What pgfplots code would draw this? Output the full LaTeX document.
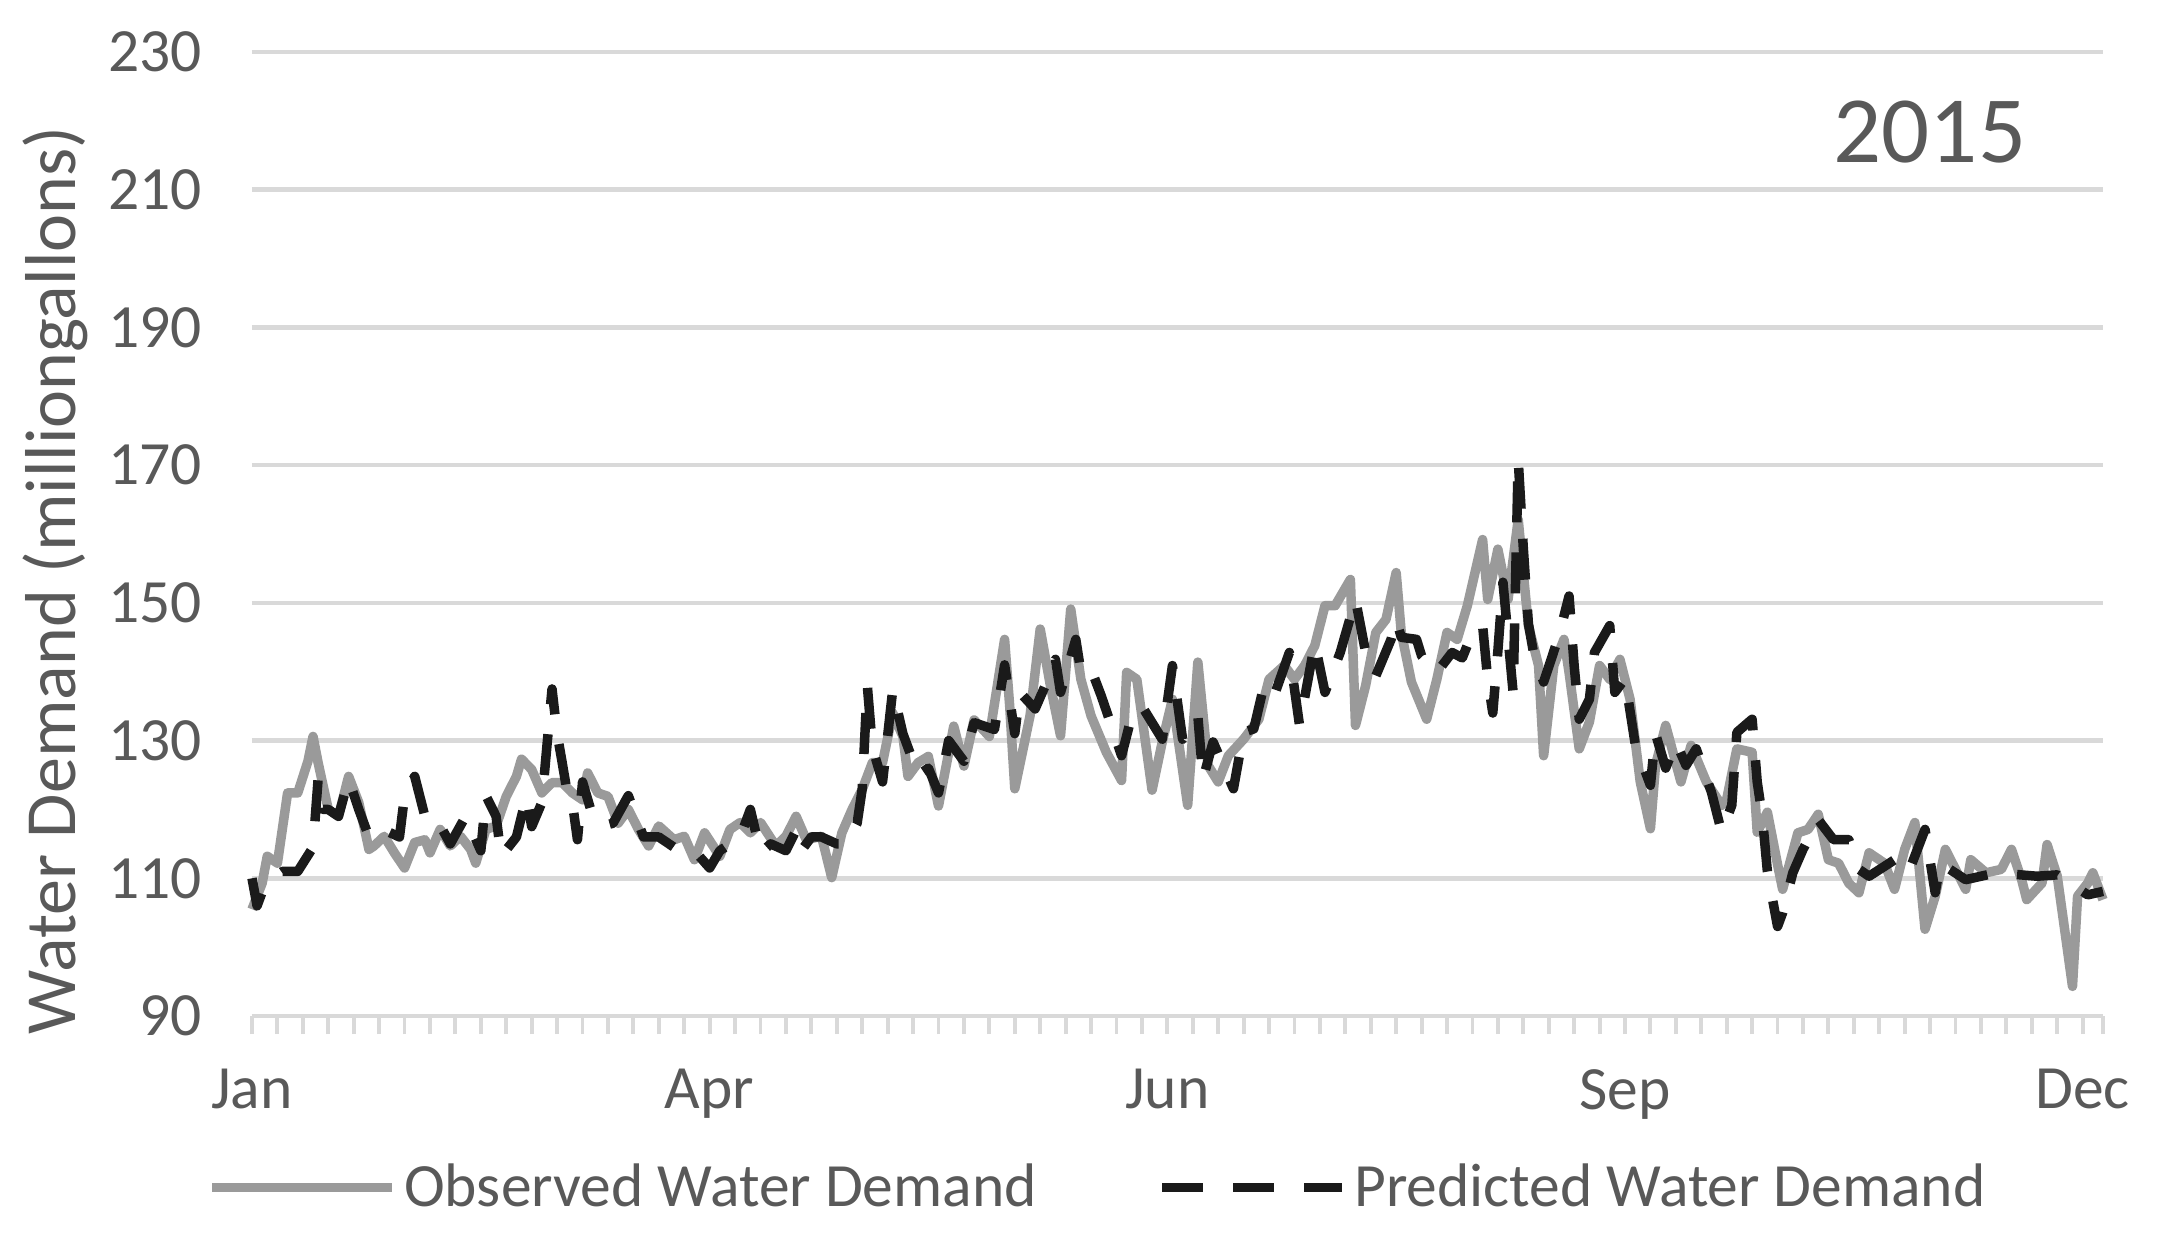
\documentclass[border=0pt]{standalone}
\usepackage{pgfplots}
\pgfplotsset{compat=1.18}
\usepackage{fontspec}
\setmainfont{Carlito}

\definecolor{txt}{HTML}{595959}
\definecolor{gridc}{HTML}{D9D9D9}
\definecolor{obs}{HTML}{9A9A9A}
\definecolor{pred}{HTML}{1A1A1A}
\newcommand\tickfont{\fontsize{17.5}{21}\selectfont}

% observed daily demand (day of year, million gallons)
\pgfplotstableread{
day val
0 105.5
2 109.3
3 113.2
5 112.2
7 122.4
9 122.4
11 127
12 130.6
13 126.8
15 120
17 119
19 124.8
21 121
23 114.2
24 114.7
26 116.1
28 113.7
30 111.5
32 115.2
34 115.6
35 113.7
37 117.1
39 114.7
41 116.1
43 114.2
44 112.2
46 117.1
48 117.6
50 121.9
52 124.8
53 127.3
55 125.8
57 122.4
59 123.9
61 123.9
63 122.4
65 121.4
66 125.3
68 122.4
70 121.9
72 118
74 120
76 117.1
78 114.7
80 117.6
83 115.6
85 116.1
87 112.7
89 116.6
92 113.2
94 117.1
96 118.1
98 116.6
100 118.1
103 114.7
105 116.1
107 119
109 115.6
112 116.1
114 110.1
116 116.6
118 120
120 122.9
122 126.8
124 126.8
126 134
128 130.6
129 124.8
131 126.8
133 127.7
135 120.5
138 132.1
140 126.3
142 133
145 130.6
148 144.7
149 135
150 123
153 133.6
155 146.2
157 138
159 130.7
161 149.1
163 138.9
165 133.6
168 128.3
171 124.2
172 139.9
174 138.9
177 122.8
179 129.8
181 136
184 120.6
186 141.4
188 126.4
190 124
192 127.8
195 130.2
198 133.1
200 138.9
203 140.9
205 138.9
207 140.9
209 143.8
211 149.6
213 149.6
216 153.4
217 132.2
219 138
221 145.7
223 147.6
225 154.4
226 145.7
228 138.5
231 133.1
233 138.9
235 145.7
237 144.7
239 149.6
242 159.2
243 150.5
245 157.8
247 150.5
249 162.1
251 146.7
253 140.9
254 127.8
256 140.9
258 144.7
259 139.9
261 128.8
263 132.7
265 140.9
267 138.9
269 141.8
271 136
273 124
275 117.2
276 126.4
278 132.2
281 124
283 129.3
286 124
289 120.6
290 121.5
292 128.8
295 128.3
296 116.7
298 119.6
300 112
301 108.4
304 116.6
306 117.1
308 119.3
310 112.7
312 112.2
314 109.3
316 107.9
318 113.7
321 112.2
323 108.4
325 114.2
327 118.1
329 102.6
331 107.4
333 114.2
335 111.3
337 108.4
338 112.7
341 110.8
344 111.3
346 114.2
348 109.8
349 106.9
352 109.3
353 114.9
355 110.3
356 105
358 94.3
359 107.4
361 109.3
362 110.8
364 106.9
}\observed

% predicted daily demand
\pgfplotstableread{
day val
0 110
1 106
2 108
4 110
6 111
9 111
12 114.5
13 124.4
14 120
15 120
17 119
19 124.4
21 120
23 116
26 117
29 116
30 122
32 124.8
34 119
36 119
39 115
42 119
45 114
46 122
48 119
49 113.2
52 116
54 122
55 117.5
57 121
59 137.5
60 131
61 126.8
62 122.4
63 121
64 115.6
65 124
67 119
69 117.6
71 118
74 122
77 116
80 116
84 114
87 114
90 111.5
92 114
94 115
96 116
98 120
100 113.7
102 115
105 114
107 117
108 114
110 116
112 116
115 115
117 115
119 118
120 123
121 138
122 129
124 124
126 137.4
128 131
131 125
133 126
135 122.4
137 130
140 127
142 132.6
146 131.6
148 141
150 131
151 137
154 134.6
156 138
158 141.8
159 137
162 144.7
163 140
165 140.4
167 136.5
169 132.2
171 127.8
173 133.6
175 135
179 130.2
181 140.9
183 130.2
186 133.6
187 124.4
189 129.8
191 126.4
193 123
195 131.2
197 131.7
199 138
201 136.5
204 142.8
206 132.2
209 144.2
211 137
214 142.8
217 150.5
219 142.8
221 139.4
224 144.7
225 147.6
226 145
229 144.7
230 142.3
233 139.9
236 142.8
238 142
240 145.7
242 146.7
243 138.9
244 134
245 143
246 153
248 137
249 170.8
250 158
251 147
252 142.8
254 138.5
257 145.2
259 151
260 140.9
261 133.1
263 136
264 142.8
267 146.7
268 137
270 139
272 129.5
275 123.5
276 131
278 126
280 129.8
282 126.4
284 128.8
287 122.5
289 116.7
291 120.6
292 131.2
295 133.1
296 124
297 119
298 111
300 103
301 105
303 110.8
305 114.2
308 118.5
311 115.6
314 115.6
316 111.3
318 110.3
322 112.2
324 113.2
326 111.3
329 117.1
331 107.9
332 112.2
337 109.8
343 110.8
351 110.3
355 110.5
361 107.6
364 108.1
}\predicted

\begin{document}
\begin{tikzpicture}
\path[use as bounding box] (-2.52,-2.24) rectangle (19.12,10.16);
\begin{axis}[
  at={(0,0)}, anchor=south west,
  scale only axis,
  width=18.51cm, height=9.64cm,
  xmin=0, xmax=364,
  ymin=90, ymax=230,
  clip=false,
  axis lines*=left,
  x axis line style={draw=gridc, line width=1.3pt},
  y axis line style={draw=none},
  ytick={90,110,...,230},
  ymajorgrids,
  grid style={draw=gridc, line width=1.3pt},
  xtick={0,90,180,270,360},
  xticklabels={Jan,Apr,Jun,Sep,Dec},
  minor xtick={5,10,...,355,364},
  tick align=outside,
  major tick length=0.18cm,
  minor tick length=0.18cm,
  xtick style={draw=gridc, line width=1.1pt},
  ytick style={draw=none},
  tick label style={text=txt, font=\tickfont},
  /pgf/number format/assume math mode=true,
  yticklabel style={xshift=-0.2cm},
  xticklabel style={yshift=-0.23cm},
  legend image code/.code={\draw[#1] (0cm,0cm) -- (1.8cm,0cm);},
  legend style={at={(rel axis cs:-0.03,-0.178)}, anchor=west,
    draw=none, fill=none, legend columns=2,
    font=\tickfont, text=txt,
    /tikz/every even column/.append style={column sep=1.14cm}},
  legend cell align=left,
]
\addplot[obs, line width=2.7pt, line join=round] table[x=day, y=val] {\observed};
\addlegendentry{Observed Water Demand}
\addplot[pred, line width=2.7pt, line join=round, dash pattern=on 0.41cm off 0.3cm] table[x=day, y=val] {\predicted};
\addlegendentry{Predicted Water Demand}

\node[font=\fontsize{27}{32}\selectfont, text=txt] at (rel axis cs:0.9065,0.917) {2015};
\node[rotate=90, font=\fontsize{20.5}{24}\selectfont, text=txt]
  at ([xshift=-1.97cm]rel axis cs:0,0.452) {Water Demand (milliongallons)};
\end{axis}
\end{tikzpicture}
\end{document}
